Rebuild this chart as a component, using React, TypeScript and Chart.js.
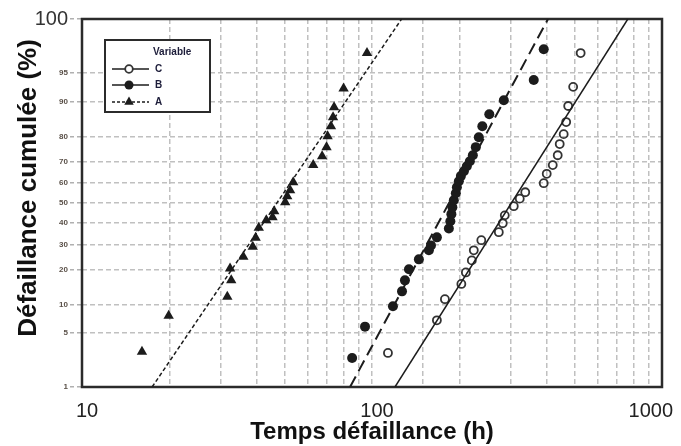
import React, { useEffect, useRef } from 'react';
import { Chart, registerables, Scale } from 'chart.js';

// ---- data (time in hours, cumulative failure in %) ----
const SERIES_NAMES = ['C', 'B', 'A'];

const A_TIME = [16.1, 19.9, 31.7, 32.7, 32.4, 36.0, 38.8, 39.7, 40.7, 43.2, 45.4, 46.0, 50.2, 51.0, 52.2, 53.5, 62.7, 67.3, 69.7, 70.3, 72.2, 73.4, 74.0, 79.8, 96.1];
const A_PCT = [3.0, 7.7, 11.8, 16.4, 20.4, 24.8, 29.0, 33.0, 37.7, 41.4, 42.9, 45.9, 50.4, 53.4, 56.4, 60.4, 68.4, 72.3, 76.0, 80.1, 83.4, 86.1, 88.7, 92.6, 97.1];

const B_TIME = [85.4, 94.6, 118.1, 126.9, 129.9, 134.1, 145.1, 157.1, 159.7, 167.4, 184.1, 186.3, 187.8, 189.3, 191.5, 194.6, 196.2, 199.3, 202.5, 207.4, 212.3, 217.5, 222.7, 228.0, 233.5, 240.1, 253.8, 284.8, 361.2, 391.0];
const B_PCT = [2.5, 5.9, 9.6, 13.2, 16.4, 20.1, 23.8, 27.5, 29.6, 33.2, 37.4, 40.9, 44.4, 47.8, 51.4, 54.9, 57.9, 60.8, 63.3, 65.6, 67.9, 70.1, 72.7, 76.0, 79.7, 83.4, 86.9, 90.3, 94.0, 97.4];

const C_TIME = [113.5, 167.4, 178.4, 203.3, 210.7, 220.9, 224.4, 238.2, 273.7, 282.4, 287.0, 308.2, 323.2, 337.6, 391.0, 400.4, 420.0, 436.9, 443.9, 458.1, 467.3, 474.8, 493.9, 524.2];
const C_PCT = [2.9, 6.9, 11.2, 15.3, 19.0, 23.4, 27.5, 31.9, 35.6, 39.9, 43.8, 48.4, 52.2, 55.4, 59.9, 64.4, 68.4, 72.7, 77.2, 80.8, 84.7, 89.0, 92.9, 97.1];

// fitted lognormal lines (endpoints at 1 % and 99 %)
const FIT_PCT = [1, 99];
const FIT_A_TIME = [17.45, 126.5];
const FIT_B_TIME = [84.0, 404.5];
const FIT_C_TIME = [120.0, 762.5];

const X_TICK_LABELS = [10, 100, 1000];
const Y_TICKS = [1, 5, 10, 20, 30, 40, 50, 60, 70, 80, 90, 95, 99];
const Y_TOP_LABEL = '100';

const X_TITLE = 'Temps défaillance (h)';
const Y_TITLE = 'Défaillance cumulée (%)';
const LEGEND_TITLE = 'Variable';

const FONT = "'Liberation Sans', Arial, sans-serif";

// ---- probit (normal probability) scale ----
function normInv(p: number): number {
  const a = [-3.969683028665376e1, 2.209460984245205e2, -2.759285104469687e2, 1.38357751867269e2, -3.066479806614716e1, 2.506628277459239];
  const b = [-5.447609879822406e1, 1.615858368580409e2, -1.556989798598866e2, 6.680131188771972e1, -1.328068155288572e1];
  const c = [-7.784894002430293e-3, -3.223964580411365e-1, -2.400758277161838, -2.549732539343734, 4.374664141464968, 2.938163982698783];
  const d = [7.784695709041462e-3, 3.224671290700398e-1, 2.445134137142996, 3.754408661907416];
  const pl = 0.02425;
  if (p < pl) {
    const q = Math.sqrt(-2 * Math.log(p));
    return (((((c[0] * q + c[1]) * q + c[2]) * q + c[3]) * q + c[4]) * q + c[5]) / ((((d[0] * q + d[1]) * q + d[2]) * q + d[3]) * q + 1);
  }
  if (p <= 1 - pl) {
    const q = p - 0.5;
    const r = q * q;
    return ((((((a[0] * r + a[1]) * r + a[2]) * r + a[3]) * r + a[4]) * r + a[5]) * q) / (((((b[0] * r + b[1]) * r + b[2]) * r + b[3]) * r + b[4]) * r + 1);
  }
  const q = Math.sqrt(-2 * Math.log(1 - p));
  return -(((((c[0] * q + c[1]) * q + c[2]) * q + c[3]) * q + c[4]) * q + c[5]) / ((((d[0] * q + d[1]) * q + d[2]) * q + d[3]) * q + 1);
}

function normCdf(z: number): number {
  const t = 1 / (1 + 0.2316419 * Math.abs(z));
  const dd = 0.3989423 * Math.exp((-z * z) / 2);
  const pr = dd * t * (0.3193815 + t * (-0.3565638 + t * (1.781478 + t * (-1.821256 + t * 1.330274))));
  return z > 0 ? 1 - pr : pr;
}

class ProbitScale extends Scale {
  static id = 'probit';
  static defaults = {};
  _zmin = -2.326;
  _zmax = 2.326;

  parse(raw: any) {
    if (raw === null || raw === undefined) return null;
    const v = +raw;
    return isFinite(v) ? v : null;
  }
  determineDataLimits() {
    const o: any = this.options;
    this.min = o.min ?? 1;
    this.max = o.max ?? 99;
  }
  buildTicks() {
    return Y_TICKS.map((v) => ({ value: v }));
  }
  getLabelForValue(v: number) {
    return String(v);
  }
  configure() {
    super.configure();
    this._zmin = normInv(this.min / 100);
    this._zmax = normInv(this.max / 100);
  }
  getPixelForValue(v: number) {
    if (v === null || v === undefined || isNaN(v)) return NaN;
    const p = Math.min(Math.max(v / 100, 1e-6), 1 - 1e-6);
    const z = normInv(p);
    return this.getPixelForDecimal((z - this._zmin) / (this._zmax - this._zmin));
  }
  getValueForPixel(px: number) {
    const dec = this.getDecimalForPixel(px);
    return normCdf(this._zmin + dec * (this._zmax - this._zmin)) * 100;
  }
}

Chart.register(...registerables, ProbitScale);

const toPts = (xs: number[], ys: number[]) => xs.map((x, i) => ({ x, y: ys[i] }));

const INK = '#1c1c1c';

function drawMarker(ctx: CanvasRenderingContext2D, kind: string, x: number, y: number) {
  ctx.save();
  ctx.setLineDash([]);
  if (kind === 'A') {
    const r = 5.5;
    ctx.beginPath();
    ctx.moveTo(x, y - r);
    ctx.lineTo(x + r * Math.sin((2 * Math.PI) / 3), y + r / 2);
    ctx.lineTo(x - r * Math.sin((2 * Math.PI) / 3), y + r / 2);
    ctx.closePath();
    ctx.fillStyle = INK;
    ctx.fill();
  } else if (kind === 'B') {
    ctx.beginPath();
    ctx.arc(x, y, 4.5, 0, Math.PI * 2);
    ctx.fillStyle = INK;
    ctx.fill();
  } else {
    ctx.beginPath();
    ctx.arc(x, y, 3.8, 0, Math.PI * 2);
    ctx.fillStyle = '#fff';
    ctx.fill();
    ctx.lineWidth = 1.8;
    ctx.strokeStyle = '#333';
    ctx.stroke();
  }
  ctx.restore();
}

const decorPlugin = {
  id: 'decor',
  beforeDatasetsDraw(chart: any) {
    const { ctx, chartArea: a } = chart;
    ctx.save();
    ctx.strokeStyle = '#2b2b2b';
    ctx.lineWidth = 2.5;
    ctx.strokeRect(a.left, a.top, a.right - a.left, a.bottom - a.top);
    ctx.restore();
  },
  afterDatasetsDraw(chart: any) {
    const { ctx } = chart;
    // legend box
    const bx = 105, by = 40, bw = 105, bh = 72;
    ctx.save();
    ctx.fillStyle = '#fff';
    ctx.fillRect(bx, by, bw, bh);
    ctx.strokeStyle = '#2b2b2b';
    ctx.lineWidth = 2;
    ctx.strokeRect(bx, by, bw, bh);
    ctx.fillStyle = '#1d1d3a';
    ctx.font = `bold 10px ${FONT}`;
    ctx.textBaseline = 'middle';
    ctx.textAlign = 'left';
    ctx.fillText(LEGEND_TITLE, 153, 52);
    const rowsY = [69, 85, 102];
    SERIES_NAMES.forEach((name, i) => {
      const y = rowsY[i];
      ctx.save();
      ctx.strokeStyle = INK;
      ctx.lineWidth = 1.5;
      ctx.setLineDash(name === 'A' ? [3, 2] : []);
      ctx.beginPath();
      ctx.moveTo(112, y);
      ctx.lineTo(149, y);
      ctx.stroke();
      ctx.restore();
      drawMarker(ctx, name, 129, y);
      ctx.fillStyle = '#1d1d3a';
      ctx.font = `bold 10px ${FONT}`;
      ctx.fillText(name, 155, y + 0.5);
    });
    ctx.restore();
  },
  afterDraw(chart: any) {
    const { ctx, scales } = chart;
    const xs = scales.x;
    ctx.save();
    ctx.fillStyle = '#222';
    ctx.font = `20px ${FONT}`;
    ctx.textBaseline = 'middle';
    ctx.textAlign = 'center';
    X_TICK_LABELS.forEach((v) => {
      const w = ctx.measureText(String(v)).width;
      let cx = xs.getPixelForValue(v) + 5;
      if (cx + w / 2 > 673) cx = 673 - w / 2;
      ctx.fillText(String(v), cx, 411);
    });
    // axis titles
    ctx.fillStyle = '#111';
    ctx.textBaseline = 'alphabetic';
    ctx.font = `bold 24px ${FONT}`;
    ctx.fillText(X_TITLE, 372, 439);
    ctx.translate(36, 188);
    ctx.rotate(-Math.PI / 2);
    ctx.font = `bold 26px ${FONT}`;
    ctx.fillText(Y_TITLE, 0, 0);
    ctx.restore();
  },
};

export default function App() {
  const ref = useRef<HTMLCanvasElement>(null);
  useEffect(() => {
    document.body.style.margin = '0';
    const canvas = ref.current;
    if (!canvas) return;
    const chart = new Chart(canvas, {
      type: 'scatter',
      data: {
        datasets: [
          {
            label: 'fit C',
            data: toPts(FIT_C_TIME, FIT_PCT),
            showLine: true,
            borderColor: INK,
            borderWidth: 1.5,
            pointRadius: 0,
          },
          {
            label: 'fit B',
            data: toPts(FIT_B_TIME, FIT_PCT),
            showLine: true,
            borderColor: INK,
            borderWidth: 2,
            borderDash: [12, 6],
            pointRadius: 0,
          },
          {
            label: 'fit A',
            data: toPts(FIT_A_TIME, FIT_PCT),
            showLine: true,
            borderColor: INK,
            borderWidth: 1.5,
            borderDash: [4, 2.5],
            pointRadius: 0,
          },
          {
            label: SERIES_NAMES[0],
            data: toPts(C_TIME, C_PCT),
            pointStyle: 'circle',
            pointRadius: 4,
            borderWidth: 1.8,
            borderColor: '#333',
            backgroundColor: 'rgba(255,255,255,0)',
          },
          {
            label: SERIES_NAMES[1],
            data: toPts(B_TIME, B_PCT),
            pointStyle: 'circle',
            pointRadius: 5,
            borderWidth: 0,
            backgroundColor: INK,
          },
          {
            label: SERIES_NAMES[2],
            data: toPts(A_TIME, A_PCT),
            pointStyle: 'triangle',
            pointRadius: 6,
            borderWidth: 0,
            backgroundColor: INK,
          },
        ],
      } as any,
      options: {
        animation: false,
        responsive: true,
        maintainAspectRatio: false,
        layout: { autoPadding: false, padding: { left: 0, top: 19, right: 19, bottom: 0 } },
        plugins: { legend: { display: false }, tooltip: { enabled: false } },
        scales: {
          x: {
            type: 'logarithmic',
            min: 10,
            max: 1000,
            ticks: { display: false },
            grid: { color: '#c0c0c0', lineWidth: 1.5, drawTicks: false },
            border: { display: false, dash: [5, 3] },
            afterFit: (s: any) => {
              s.height = 59;
            },
          },
          y: {
            type: 'probit',
            min: 1,
            max: 99,
            ticks: {
              padding: 2,
              color: (c: any) => (c.tick && c.tick.value === 99 ? '#333' : '#5a5048'),
              font: (c: any) =>
                c.tick && c.tick.value === 99
                  ? { family: FONT, size: 20 }
                  : { family: FONT, size: 8, weight: 'bold' },
              callback: (v: any) => (v === 99 ? Y_TOP_LABEL : String(v)),
            },
            grid: {
              color: '#c0c0c0',
              lineWidth: 1.5,
              tickLength: 12,
              tickColor: '#b0b0b0',
              tickBorderDash: [4, 3],
            },
            border: { display: false, dash: [5, 3] },
            afterFit: (s: any) => {
              s.width = 82;
            },
          },
        } as any,
      },
      plugins: [decorPlugin],
    });
    return () => chart.destroy();
  }, []);
  return (
    <div style={{ position: 'relative', width: 681, height: 446 }}>
      <canvas ref={ref} />
    </div>
  );
}
